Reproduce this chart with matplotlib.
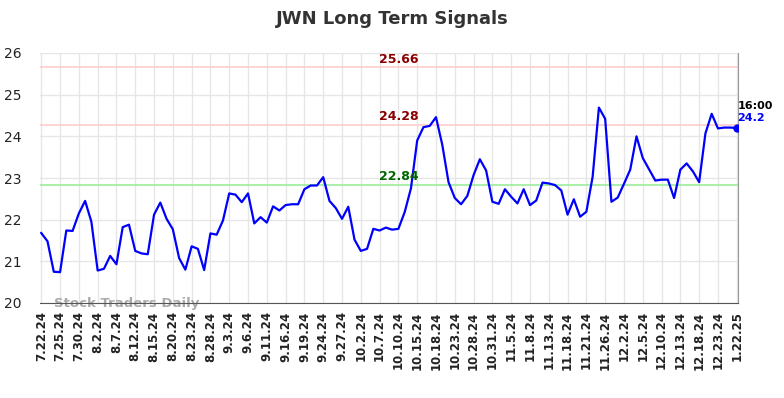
import matplotlib
matplotlib.use("Agg")
import matplotlib.pyplot as plt
import numpy as np

tick_labels = ["7.22.24", "7.25.24", "7.30.24", "8.2.24", "8.7.24", "8.12.24", "8.15.24",
               "8.20.24", "8.23.24", "8.28.24", "9.3.24", "9.6.24", "9.11.24", "9.16.24",
               "9.19.24", "9.24.24", "9.27.24", "10.2.24", "10.7.24", "10.10.24", "10.15.24",
               "10.18.24", "10.23.24", "10.28.24", "10.31.24", "11.5.24", "11.8.24",
               "11.13.24", "11.18.24", "11.21.24", "11.26.24", "12.2.24", "12.5.24",
               "12.10.24", "12.13.24", "12.18.24", "12.23.24", "1.22.25"]

prices = [21.68, 21.48, 20.75, 20.74, 21.74, 21.73, 22.15, 22.45, 21.95, 20.78,
          20.82, 21.13, 20.93, 21.82, 21.88, 21.25, 21.19, 21.17, 22.12, 22.41,
          22.02, 21.77, 21.08, 20.80, 21.36, 21.30, 20.79, 21.67, 21.64, 21.98,
          22.63, 22.60, 22.42, 22.63, 21.91, 22.06, 21.93, 22.32, 22.22, 22.35,
          22.37, 22.37, 22.73, 22.82, 22.82, 23.02, 22.45, 22.28, 22.02, 22.31,
          21.52, 21.25, 21.30, 21.78, 21.74, 21.81, 21.76, 21.78, 22.18, 22.75,
          23.90, 24.22, 24.25, 24.46, 23.80, 22.90, 22.52, 22.37, 22.57, 23.07,
          23.45, 23.18, 22.43, 22.38, 22.73, 22.55, 22.39, 22.73, 22.35, 22.46,
          22.89, 22.87, 22.83, 22.70, 22.12, 22.49, 22.07, 22.19, 23.03, 24.69,
          24.42, 22.43, 22.53, 22.86, 23.20, 24.00, 23.48, 23.21, 22.94, 22.96,
          22.96, 22.52, 23.20, 23.35, 23.16, 22.90, 24.07, 24.54, 24.19, 24.21,
          24.21, 24.20]

levels = [25.66, 24.28, 22.84]
level_line_colors = ["#ffcccc", "#ffcccc", "#99ee99"]
level_text_colors = ["#8b0000", "#8b0000", "#006400"]
last_time = "16:00"
last_label = "24.2"

fig = plt.figure(figsize=(7.84, 3.98), dpi=100)
ax = fig.add_axes([40/784, 1 - 303/398, 698/784, 250/398])

x = np.arange(len(prices))
ax.plot(x, prices, color="#0000ff", lw=1.6, zorder=3)
ax.plot(x[-1], prices[-1], "o", color="#0000ff", ms=5, zorder=4)

for lv, lc, tc in zip(levels, level_line_colors, level_text_colors):
    ax.axhline(lv, color=lc, lw=1.2, zorder=2)
    ax.text(57.1, lv + 0.03, f"{lv:.2f}", color=tc, fontsize=9, fontweight="bold",
            ha="center", va="bottom", zorder=5)

tick_pos = np.arange(len(tick_labels)) * 3
ax.set_xticks(tick_pos)
ax.set_xticklabels(tick_labels, rotation=90, fontsize=8.5, fontweight="bold", color="#222222")
ax.set_yticks(range(20, 27))
ax.tick_params(axis="y", labelsize=10, colors="#222222", length=0, pad=13)
ax.tick_params(axis="x", length=0, pad=6)
ax.set_xlim(-0.2, 111.2)
ax.set_ylim(20, 26)
ax.grid(True, color="#e6e6e6", lw=1, zorder=0)
ax.set_axisbelow(True)
for s in ["top", "left"]:
    ax.spines[s].set_visible(False)
ax.spines["bottom"].set_color("#555555")
ax.spines["right"].set_color("#999999")

ax.text(111.1, 24.6, last_time, fontsize=8, fontweight="bold", color="black", ha="left", va="bottom")
ax.text(111.1, 24.43, last_label, fontsize=8, fontweight="bold", color="#0000ff", ha="left", va="center")

ax.text(2, 20.0, "Stock Traders Daily", fontsize=9.5, fontweight="bold", color="#aaaaaa",
        ha="left", va="center", zorder=1)

fig.suptitle("JWN Long Term Signals", x=0.5, y=0.975, fontsize=13, fontweight="bold", color="#333333")

fig.savefig("out.png", dpi=100)
